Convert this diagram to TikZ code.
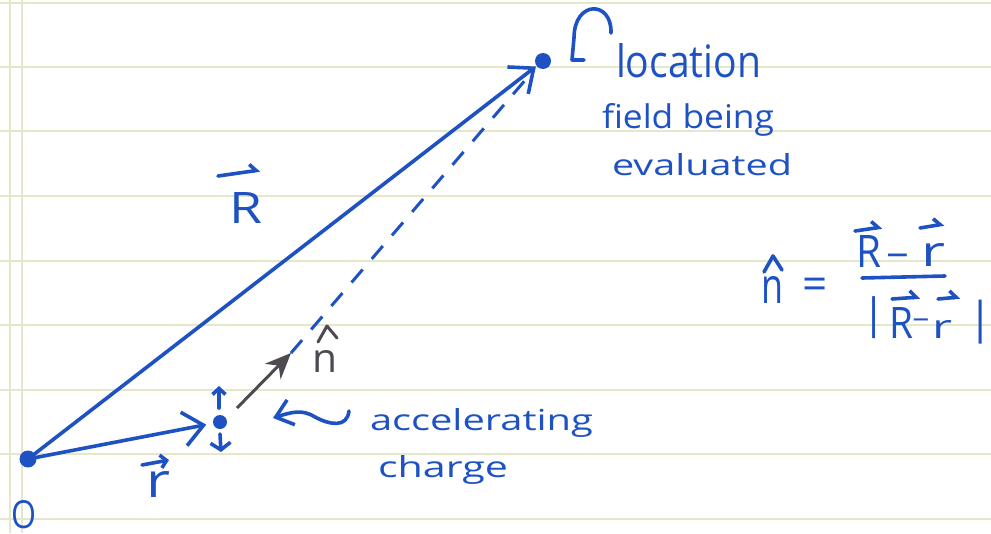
\documentclass[tikz,border=0pt]{standalone}
\usepackage{fontspec}
\setmainfont{Open Sans}
\usetikzlibrary{arrows.meta}
\definecolor{ink}{RGB}{30,82,195}
\definecolor{pencil}{RGB}{78,74,82}
\definecolor{rulecol}{RGB}{228,232,200}
\newcommand\hwtext[3]{\resizebox{#1pt}{#2pt}{#3}}
\begin{document}
\begin{tikzpicture}[x=1pt,y=-1pt,
  inkline/.style={draw=ink,line width=3.6pt,line cap=round,line join=round},
  bigbarb/.style={-{Straight Barb[length=20pt,width=34pt]}},
  smallbarb/.style={-{Straight Barb[length=6pt,width=13pt]}},
  vecbarb/.style={-{Straight Barb[harpoon,length=6pt,width=14pt]}},
  dotnode/.style={circle,fill=ink,inner sep=0pt,outer sep=0pt,minimum size=#1},
  hw/.style={inner sep=0pt,outer sep=0pt,anchor=base west,text=ink},
  hwc/.style={inner sep=0pt,outer sep=0pt,text=ink},
  ruleline/.style={draw=rulecol,line width=1.2pt}]
\useasboundingbox[fill=white] (0,0) rectangle (991,533);
\foreach \yy in {3,67,131,196,261,325,390,454,519} \draw[ruleline] (0,\yy) -- (991,\yy);
\foreach \xx in {10,22} \draw[ruleline] (\xx,0) -- (\xx,533);

% points
\node[dotnode=17pt] (O) at (28,459) {};
\node[dotnode=14pt] (q) at (220,422) {};
\node[dotnode=16pt] (P) at (543,61) {};
\node[hw] (Olab) at (12,528) {\hwtext{25}{28}{O}};

% main vectors
\draw[inkline,bigbarb,shorten >=1pt] (O) -- (P);
\draw[inkline,bigbarb,shorten >=7pt] (O) -- (q);

% labels R and r
\node[hw] (Rlab) at (229,223) {\hwtext{33}{31}{R}};
\draw[inkline,vecbarb] (218,176) -- (260,170);
\node[hw] (rlab) at (146,497) {\hwtext{24}{26}{r}};
\draw[inkline,smallbarb] (142,465) -- (169,460);

% n-hat and dashed line
\coordinate (nA) at (237,408);
\coordinate (nB) at (291,353);
\coordinate (dEnd) at (527,78);
\draw[pencil,line width=3pt,-{Stealth[length=26pt,width=22pt]}] (nA) -- (nB);
\draw[inkline,line width=3pt,line cap=butt,dash pattern=on 17pt off 14pt] (nB) -- (dEnd);
\node[hw,text=pencil] (nlab) at (312,372) {\hwtext{25}{22}{n}};
\draw[pencil,line width=3pt,line cap=round,line join=round] (318,342) -- (327,326) -- (337,338);

% oscillation arrows at charge
\draw[inkline,smallbarb] (219,408) -- (219,386);
\draw[inkline,-{Straight Barb[length=7pt,width=20pt]}] (220,434) -- (221,452);

% wavy arrow and text
\coordinate (wS) at (349,411);
\coordinate (wT) at (273,418);
\draw[inkline,-{Straight Barb[length=16pt,width=26pt]}] (wS) .. controls (347,428) and (330,425) .. (315,417) .. controls (302,409) and (292,412) .. (wT);
\node[hw] (accel) at (370,430) {\hwtext{223}{22}{accelerating}};
\node[hw] (charge) at (378,477) {\hwtext{130}{22}{charge}};

% location text and curved arrow
\node[hw] (loc) at (616,77) {\hwtext{145}{34}{location}};
\node[hw] (field) at (602,128) {\hwtext{172}{25}{field being}};
\node[hw] (eval) at (612,175) {\hwtext{180}{22}{evaluated}};
\coordinate (cS) at (611,33);
\coordinate (cT) at (572,60);
\draw[inkline] (cS) .. controls (612,0) and (574,0) .. (574,38) -- (cT) -- (584,60);

% formula
\node[hw] (fn) at (761,303) {\hwtext{22}{27}{n}};
\draw[inkline] (764,272) -- (773,256) -- (782,270);
\node[hwc,anchor=base,font=\fontsize{44}{44}\selectfont] (feq) at (815,299) {=};
\node[hw] (numR) at (856,267) {\hwtext{25}{32}{R}};
\node[hwc,anchor=base,font=\fontsize{40}{40}\selectfont] (numM) at (898,269) {−};
\node[hw] (numr) at (921,266) {\hwtext{24}{23}{r}};
\draw[inkline,vecbarb] (855,231) -- (882,227);
\draw[inkline,vecbarb] (920,228) -- (944,224);
\draw[inkline] (862,278) -- (945,276);
\node[hwc] (denL) at (874,318) {\resizebox*{!}{42pt}{|}};
\node[hw] (denR) at (889,338) {\hwtext{24}{31}{R}};
\node[hwc,anchor=base,font=\fontsize{30}{30}\selectfont] (denM) at (921,330) {−};
\node[hw] (denr) at (932,338) {\hwtext{20}{18}{r}};
\draw[inkline,vecbarb] (892,299) -- (920,297);
\draw[inkline,vecbarb] (938,299) -- (960,297);
\node[hwc] (denRb) at (981,322) {\resizebox*{!}{44pt}{|}};
\end{tikzpicture}
\end{document}
